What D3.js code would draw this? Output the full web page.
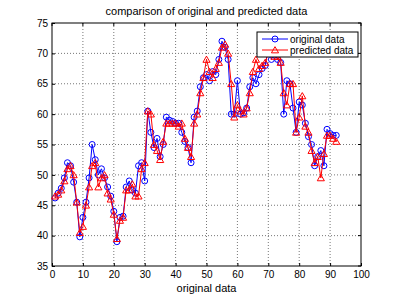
<!DOCTYPE html>
<html>
<head>
<meta charset="utf-8">
<script src="https://cdn.jsdelivr.net/npm/d3@7"></script>
<style>
  body { margin: 0; background: #fff; }
  svg { display: block; font-family: "Liberation Sans", Arial, sans-serif; }
</style>
</head>
<body>
<div id="main"></div>
<script>
var ctx = {
    w: 399,
    h: 299,
    left: 52,
    top: 23,
    right: 361,
    bottom: 266
};

// data
var original = [46.2, 47, 47.8, 49.5, 52, 51.5, 48.8, 45.5, 39.8, 43,
    45.5, 49.5, 55, 52.5, 50, 51, 49.5, 48, 46.5, 44,
    39, 43, 43.2, 48, 49, 47.5, 47, 51.5, 52, 49,
    60.5, 57, 54.5, 56, 53, 55, 59.5, 59, 58.8, 58.5,
    58.5, 57, 55.5, 54.5, 52, 59.5, 60.5, 64.5, 66, 66.5,
    65.5, 67, 66.5, 69, 72, 71, 69, 60, 60, 65.5,
    60, 60.2, 61, 64.5, 66, 65, 66.5, 67.5, 68, 71,
    69, 70, 69, 68.5, 60, 65.5, 65, 61, 57, 62,
    61.5, 58.5, 56.3, 55, 51.5, 53, 54, 51.5, 57.5, 56.8,
    56.5, 56.5];
var predicted = [46.5, 46.8, 47.5, 49, 51, 51.5, 50, 45.5, 40.5, 41.5,
    45, 48, 51.5, 52, 48, 49.5, 50, 47, 46, 43.5,
    39.5, 42.5, 43, 47.5, 47.5, 48.5, 46.5, 46.5, 51, 52,
    60.5, 60, 55, 54, 52.5, 55.5, 58.5, 58.5, 58.5, 58.5,
    58, 58.5, 56, 54.5, 53, 58.5, 60, 63.5, 66, 69,
    67, 66, 67.5, 68.5, 71, 71.5, 70, 65, 59.5, 61.5,
    60.5, 60, 61, 63.5, 67, 69, 67.5, 68, 68.5, 70,
    70.5, 69.5, 69.5, 68.5, 63.5, 61.5, 65, 65, 57, 59.5,
    63, 58, 57, 54, 52, 53, 49.5, 53.5, 56.5, 56.5,
    56, 55.5];
var xTicks = [0, 10, 20, 30, 40, 50, 60, 70, 80, 90, 100];
var yTicks = [35, 40, 45, 50, 55, 60, 65, 70, 75];
var seriesNames = ["original data", "predicted data"];

var svg = d3.select("#main").append("svg")
    .attr("width", ctx.w)
    .attr("height", ctx.h);

var x = d3.scaleLinear().domain([0, 100]).range([ctx.left, ctx.right]);
var y = d3.scaleLinear().domain([35, 75]).range([ctx.bottom, ctx.top]);

// grid
svg.append("g").selectAll("line")
    .data(xTicks.slice(1, -1))
    .enter().append("line")
    .attr("x1", (d) => x(d)).attr("x2", (d) => x(d))
    .attr("y1", ctx.top).attr("y2", ctx.bottom)
    .attr("stroke", "#777").attr("stroke-width", 1)
    .attr("stroke-dasharray", "1,2");
svg.append("g").selectAll("line")
    .data(yTicks.slice(1, -1))
    .enter().append("line")
    .attr("y1", (d) => y(d)).attr("y2", (d) => y(d))
    .attr("x1", ctx.left).attr("x2", ctx.right)
    .attr("stroke", "#777").attr("stroke-width", 1)
    .attr("stroke-dasharray", "1,2");

// axes (ticks inside, like matlab)
var xAxis = d3.axisBottom(x).tickValues(xTicks).tickSizeInner(-3).tickSizeOuter(0).tickPadding(6);
var yAxis = d3.axisLeft(y).tickValues(yTicks).tickSizeInner(-3).tickSizeOuter(0).tickPadding(6);
var gx = svg.append("g").attr("transform", `translate(0,${ctx.bottom})`).call(xAxis);
var gy = svg.append("g").attr("transform", `translate(${ctx.left},0)`).call(yAxis);
gx.select(".domain").remove();
gy.select(".domain").remove();
[gx, gy].forEach(function (g) {
    g.selectAll("text").attr("font-size", 10).attr("fill", "#000")
        .attr("font-family", "Liberation Sans, Arial, sans-serif");
    g.selectAll("line").attr("stroke", "#000");
});
gy.selectAll("text").attr("dx", 2);
gx.selectAll("text").attr("dy", "0.55em");

// top/right ticks
svg.append("g").selectAll("line").data(xTicks).enter().append("line")
    .attr("x1", (d) => x(d)).attr("x2", (d) => x(d))
    .attr("y1", ctx.top).attr("y2", ctx.top + 3).attr("stroke", "#000");
svg.append("g").selectAll("line").data(yTicks).enter().append("line")
    .attr("y1", (d) => y(d)).attr("y2", (d) => y(d))
    .attr("x1", ctx.right).attr("x2", ctx.right - 3).attr("stroke", "#000");

svg.append("rect")
    .attr("x", ctx.left).attr("y", ctx.top)
    .attr("width", ctx.right - ctx.left).attr("height", ctx.bottom - ctx.top)
    .attr("fill", "none").attr("stroke", "#000").attr("stroke-width", 1);

// series
var line = d3.line().x((d, i) => x(i + 1)).y((d) => y(d));
var tri = d3.symbol().type(d3.symbolTriangle).size(22);

svg.append("path").datum(original)
    .attr("d", line).attr("fill", "none")
    .attr("stroke", "#0000ff").attr("stroke-width", 1);
svg.append("g").selectAll("circle").data(original).enter().append("circle")
    .attr("cx", (d, i) => x(i + 1)).attr("cy", (d) => y(d)).attr("r", 3)
    .attr("fill", "none").attr("stroke", "#0000ff").attr("stroke-width", 1);

svg.append("path").datum(predicted)
    .attr("d", line).attr("fill", "none")
    .attr("stroke", "#ff0000").attr("stroke-width", 1);
svg.append("g").selectAll("path").data(predicted).enter().append("path")
    .attr("d", tri)
    .attr("transform", (d, i) => `translate(${x(i + 1)},${y(d) + 0.8})`)
    .attr("fill", "none").attr("stroke", "#ff0000").attr("stroke-width", 1);

// legend
var lg = svg.append("g").attr("transform", "translate(257,32)");
lg.append("rect").attr("width", 101).attr("height", 25)
    .attr("fill", "#fff").attr("stroke", "#000");
var colors = ["#0000ff", "#ff0000"];
seriesNames.forEach(function (name, i) {
    var yy = 7 + i * 11;
    lg.append("line").attr("x1", 5).attr("x2", 31).attr("y1", yy).attr("y2", yy)
        .attr("stroke", colors[i]);
    if (i == 0) {
        lg.append("circle").attr("cx", 18).attr("cy", yy).attr("r", 3)
            .attr("fill", "none").attr("stroke", colors[i]);
    } else {
        lg.append("path").attr("d", tri).attr("transform", `translate(18,${yy + 0.8})`)
            .attr("fill", "none").attr("stroke", colors[i]);
    }
    lg.append("text").attr("x", 33).attr("y", yy + 3.5)
        .attr("font-size", 10).text(name);
});

// titles
svg.append("text").attr("x", (ctx.left + ctx.right) / 2).attr("y", 15)
    .attr("text-anchor", "middle").attr("font-size", 11)
    .text("comparison of original and predicted data");
svg.append("text").attr("x", (ctx.left + ctx.right) / 2).attr("y", 292)
    .attr("text-anchor", "middle").attr("font-size", 11)
    .text("original data");
</script>
</body>
</html>
